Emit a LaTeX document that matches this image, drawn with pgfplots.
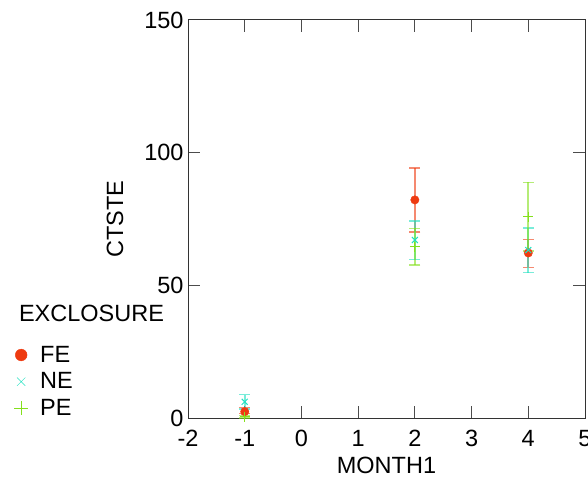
\documentclass[border=0pt]{standalone}
\usepackage{fontspec}
\setmainfont{Liberation Sans}
\usepackage{pgfplots}
\usepackage{pgfplotstable}
\pgfplotsset{compat=1.18}
\definecolor{cFE}{HTML}{EE3A10}
\definecolor{cNE}{HTML}{20E0C0}
\definecolor{cPE}{HTML}{84E01C}
\pgfplotstableread{
x y ep em
-1 2.4 1.6 0.6
2 82.2 12.0 12.1
4 62.2 5.1 5.4
}\feData
\pgfplotstableread{
x y ep em
-1 6.1 2.7 2.7
2 67.1 7.2 7.4
4 63.3 8.3 8.5
}\neData
\pgfplotstableread{
x y ep em
-1 0.5 0.5 0.5
2 64.6 6.9 6.9
4 75.9 12.9 12.9
}\peData
\begin{document}
\begin{tikzpicture}
\begin{axis}[
  at={(188bp,65bp)}, anchor=south west,
  scale only axis, width=397bp, height=398bp,
  xmin=-2, xmax=5, ymin=0, ymax=150,
  xtick={-2,-1,0,1,2,3,4,5},
  ytick={0,50,100,150},
  tick align=inside, tick pos=both,
  major tick length=12bp,
  axis line style={line width=1pt, black!80},
  every tick/.style={line width=1pt, black!70},
  /pgf/number format/assume math mode=true,
  ticklabel style={font=\fontsize{23.5bp}{28bp}\selectfont},
  label style={font=\fontsize{23.5bp}{28bp}\selectfont},
  xlabel={MONTH1}, ylabel={CTSTE},
  xticklabel style={yshift=-9bp},
  yticklabel style={xshift=-1bp},
  xlabel style={yshift=-3bp},
  ylabel style={yshift=14bp},
  clip=false,
  legend style={draw=none, fill=none, at={(-180bp,76bp)}, anchor=north west,
    font=\fontsize{23.5bp}{28bp}\selectfont, row sep=5bp, column sep=7bp,
    legend cell align=left},
  legend image code/.code={\path[draw=none,fill=none] (0bp,-5bp) rectangle (20bp,5bp); \draw[#1, mark options={scale=1.4}] plot coordinates {(10bp,0bp)};},
]
\addplot+[only marks, mark=*, mark size=4.2bp, color=cFE, mark options={fill=cFE, draw=cFE},
  error bars/.cd, y dir=both, y explicit,
  error bar style={line width=1.6pt, cFE, opacity=0.6},
  error mark options={rotate=90, mark size=5.5bp, line width=1.4pt, cFE}]
  table[x=x, y=y, y error plus=ep, y error minus=em]{\feData};
\addlegendentry{FE}
\addplot+[only marks, mark=x, mark size=4.2bp, color=cNE, mark options={line width=1pt},
  error bars/.cd, y dir=both, y explicit,
  error bar style={line width=1.6pt, cNE, opacity=0.6},
  error mark options={rotate=90, mark size=5.5bp, line width=1.4pt, cNE}]
  table[x=x, y=y, y error plus=ep, y error minus=em]{\neData};
\addlegendentry{NE}
\addplot+[only marks, mark=+, mark size=5bp, color=cPE, mark options={line width=1pt},
  error bars/.cd, y dir=both, y explicit,
  error bar style={line width=1.6pt, cPE, opacity=0.6},
  error mark options={rotate=90, mark size=5.5bp, line width=1.4pt, cPE}]
  table[x=x, y=y, y error plus=ep, y error minus=em]{\peData};
\addlegendentry{PE}
\end{axis}
\node[font=\fontsize{23.5bp}{28bp}\selectfont, anchor=center] at (91.5bp,170bp) {EXCLOSURE};
\pgfresetboundingbox
\path[use as bounding box] (0,0) rectangle (588bp,483bp);
\end{tikzpicture}
\end{document}
